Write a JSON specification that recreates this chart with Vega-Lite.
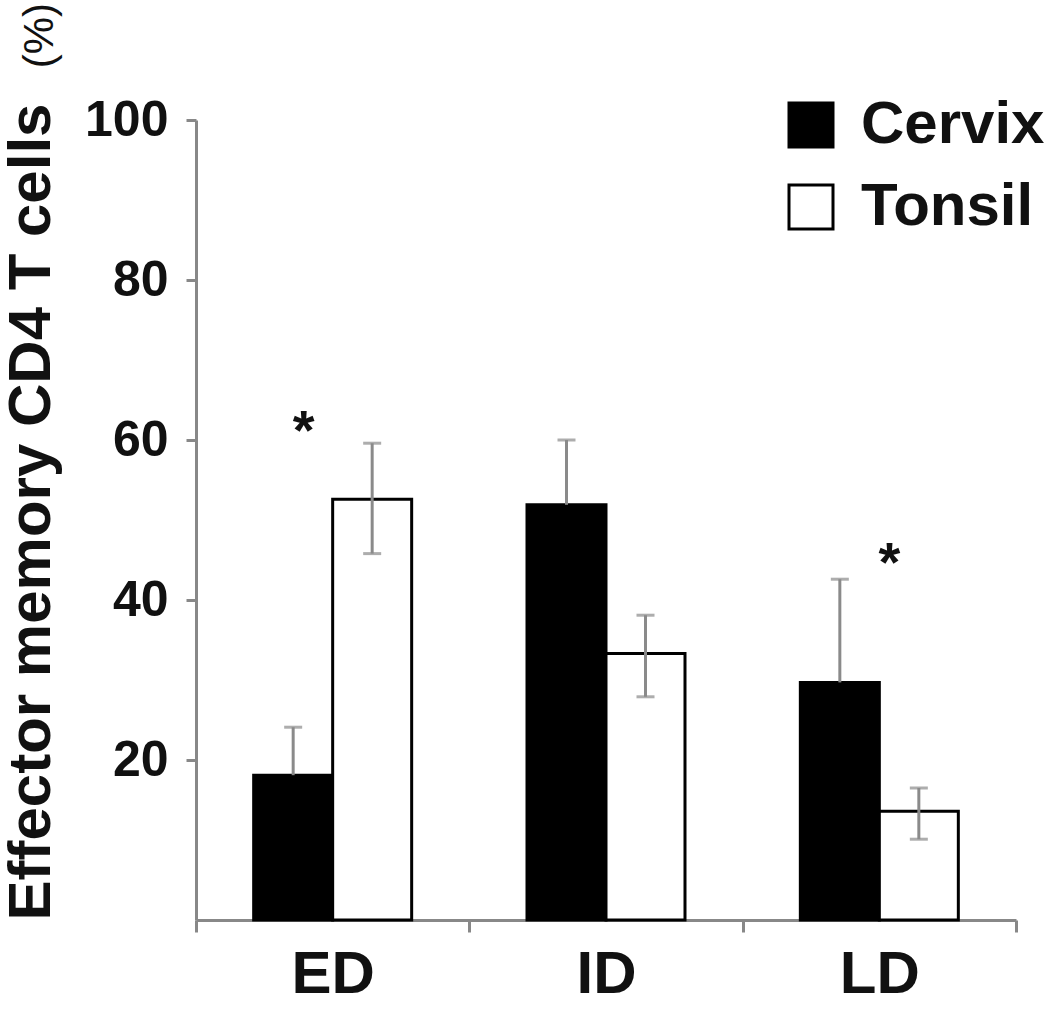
{
  "$schema": "https://vega.github.io/schema/vega-lite/v6.json",
  "width": 820,
  "height": 800,
  "autosize": {"type": "none"},
  "padding": {"left": 196, "top": 120, "right": 34, "bottom": 91},
  "background": "white",
  "title": {
    "text": "(%)", "orient": "left", "anchor": "end",
    "font": "Liberation Sans", "fontWeight": "normal", "fontSize": 42, "color": "#111",
    "offset": -60, "dx": 92
  },
  "config": {
    "font": "Liberation Sans",
    "view": {"stroke": null},
    "axis": {"grid": false}
  },
  "datasets": {
    "bars": [
      {"stage": "ED", "tissue": "Cervix", "mean": 18.1, "lo": 18.1, "hi": 24.1},
      {"stage": "ED", "tissue": "Tonsil", "mean": 52.6, "lo": 45.8, "hi": 59.6},
      {"stage": "ID", "tissue": "Cervix", "mean": 51.9, "lo": 51.9, "hi": 60.0},
      {"stage": "ID", "tissue": "Tonsil", "mean": 33.3, "lo": 27.9, "hi": 38.1},
      {"stage": "LD", "tissue": "Cervix", "mean": 29.7, "lo": 29.7, "hi": 42.6},
      {"stage": "LD", "tissue": "Tonsil", "mean": 13.6, "lo": 10.1, "hi": 16.5}
    ],
    "stars": [
      {"stage": "ED", "y": 61, "label": "*"},
      {"stage": "LD", "y": 44.5, "label": "*"}
    ]
  },
  "layer": [
    {
      "data": {"name": "bars"},
      "mark": {"type": "bar", "stroke": "black", "strokeWidth": 3},
      "encoding": {
        "x": {
          "field": "stage", "type": "nominal", "sort": ["ED", "ID", "LD"],
          "scale": {"paddingInner": 0, "paddingOuter": 0},
          "axis": {
            "title": null, "labelAngle": 0, "tickBand": "extent",
            "domainColor": "#888", "domainWidth": 3, "tickColor": "#888", "tickWidth": 3, "tickSize": 12,
            "labelFont": "Liberation Sans", "labelFontWeight": "bold", "labelFontSize": 60, "labelColor": "#111", "labelPadding": 13
          }
        },
        "xOffset": {"field": "tissue", "type": "nominal", "sort": ["Cervix", "Tonsil"], "scale": {"paddingInner": 0, "paddingOuter": 0.73}},
        "y": {
          "field": "mean", "type": "quantitative",
          "scale": {"domain": [0, 100], "nice": false},
          "axis": {
            "values": [20, 40, 60, 80, 100],
            "title": "Effector memory CD4 T cells",
            "titleAnchor": "start",
            "titleFont": "Liberation Sans", "titleFontWeight": "bold", "titleFontSize": 60, "titleColor": "#111", "titlePadding": 22,
            "domainColor": "#888", "domainWidth": 3, "tickColor": "#888", "tickWidth": 3, "tickSize": 10,
            "labelFont": "Liberation Sans", "labelFontWeight": "bold", "labelFontSize": 50, "labelColor": "#111", "labelPadding": 18
          }
        },
        "fill": {
          "field": "tissue", "type": "nominal",
          "scale": {"domain": ["Cervix", "Tonsil"], "range": ["black", "white"]},
          "legend": {
            "title": null, "orient": "none", "legendX": 585, "legendY": -25,
            "symbolType": "square", "symbolSize": 1936, "symbolStrokeColor": "black", "symbolStrokeWidth": 3,
            "labelFont": "Liberation Sans", "labelFontWeight": "bold", "labelFontSize": 60, "labelColor": "#111",
            "labelOffset": 20, "rowPadding": 22, "labelLimit": 0
          }
        }
      }
    },
    {
      "data": {"name": "bars"},
      "mark": {"type": "rule", "color": "#8a8a8a", "strokeWidth": 3},
      "encoding": {
        "x": {"field": "stage", "type": "nominal", "sort": ["ED", "ID", "LD"]},
        "xOffset": {"field": "tissue", "type": "nominal", "sort": ["Cervix", "Tonsil"]},
        "y": {"field": "lo", "type": "quantitative"},
        "y2": {"field": "hi"}
      }
    },
    {
      "data": {"name": "bars"},
      "mark": {"type": "tick", "color": "#8a8a8a", "thickness": 3, "size": 18, "orient": "horizontal"},
      "encoding": {
        "x": {"field": "stage", "type": "nominal", "sort": ["ED", "ID", "LD"]},
        "xOffset": {"field": "tissue", "type": "nominal", "sort": ["Cervix", "Tonsil"]},
        "y": {"field": "hi", "type": "quantitative"}
      }
    },
    {
      "data": {"name": "bars"},
      "transform": [{"filter": "datum.tissue === 'Tonsil'"}],
      "mark": {"type": "tick", "color": "#8a8a8a", "thickness": 3, "size": 18, "orient": "horizontal"},
      "encoding": {
        "x": {"field": "stage", "type": "nominal", "sort": ["ED", "ID", "LD"]},
        "xOffset": {"field": "tissue", "type": "nominal", "sort": ["Cervix", "Tonsil"]},
        "y": {"field": "lo", "type": "quantitative"}
      }
    },
    {
      "data": {"name": "stars"},
      "transform": [{"filter": "datum.stage === 'ED'"}],
      "mark": {"type": "text", "font": "Liberation Sans", "fontWeight": "bold", "fontSize": 56, "baseline": "middle", "dx": -29, "color": "#111"},
      "encoding": {
        "x": {"field": "stage", "type": "nominal", "sort": ["ED", "ID", "LD"]},
        "y": {"field": "y", "type": "quantitative"},
        "text": {"field": "label"}
      }
    },
    {
      "data": {"name": "stars"},
      "transform": [{"filter": "datum.stage === 'LD'"}],
      "mark": {"type": "text", "font": "Liberation Sans", "fontWeight": "bold", "fontSize": 56, "baseline": "middle", "dx": 10, "color": "#111"},
      "encoding": {
        "x": {"field": "stage", "type": "nominal", "sort": ["ED", "ID", "LD"]},
        "y": {"field": "y", "type": "quantitative"},
        "text": {"field": "label"}
      }
    }
  ]
}
